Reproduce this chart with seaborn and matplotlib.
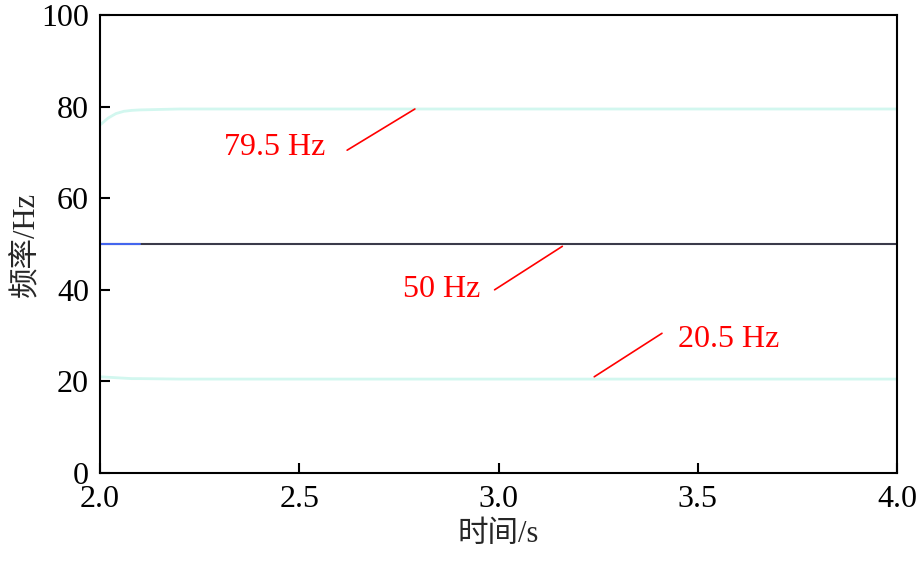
import matplotlib
matplotlib.use("Agg")
import matplotlib.pyplot as plt
import seaborn as sns
import pandas as pd

sns.set_style("white")
plt.rcParams['font.family'] = ['Liberation Serif', 'Noto Sans CJK SC']

t = [2.0, 2.02, 2.04, 2.06, 2.08, 2.1, 2.15, 2.2, 2.5, 3.0, 3.5, 4.0]
f_high = [76.0, 77.5, 78.5, 79.0, 79.2, 79.3, 79.4, 79.5, 79.5, 79.5, 79.5, 79.5]
f_mid = [50.0] * len(t)
f_low = [21.0, 20.9, 20.8, 20.7, 20.6, 20.6, 20.55, 20.5, 20.5, 20.5, 20.5, 20.5]

fig = plt.figure(figsize=(9.22, 5.61), dpi=100)
ax = fig.add_axes([0.1085, 0.157, 0.8645, 0.816])
df = pd.DataFrame({"t": t, "hi": f_high, "mid": f_mid, "lo": f_low})
sns.lineplot(data=df, x="t", y="hi", ax=ax, color="#d2f7ef", lw=2)
sns.lineplot(data=df, x="t", y="lo", ax=ax, color="#d2f7ef", lw=2)
sns.lineplot(data=df, x="t", y="mid", ax=ax, color="#3a3a4a", lw=1.5)
sns.lineplot(data=df[df.t <= 2.1], x="t", y="mid", ax=ax, color="#4466ee", lw=1.5)

ax.set_xlim(2.0, 4.0)
ax.set_ylim(0, 100)
ax.set_xticks([2.0, 2.5, 3.0, 3.5, 4.0])
ax.set_yticks([0, 20, 40, 60, 80, 100])
ax.tick_params(direction='in', length=7, width=1.5, labelsize=23, colors='black',
               left=True, bottom=True)
ax.tick_params(axis='x', pad=9)
ax.tick_params(axis='y', pad=8)
for s in ax.spines.values():
    s.set_color('black'); s.set_linewidth(1.5)
ax.set_xlabel("时间/s", fontsize=22, labelpad=4)
ax.set_ylabel("频率/Hz", fontsize=22, labelpad=0)

red = 'red'
ax.text(2.31, 69.5, "79.5 Hz", color=red, fontsize=23)
ax.plot([2.62, 2.79], [70.5, 79.5], color=red, lw=1.2)
ax.text(2.76, 38.5, "50 Hz", color=red, fontsize=23)
ax.plot([2.99, 3.16], [40, 49.5], color=red, lw=1.2)
ax.text(3.45, 27.5, "20.5 Hz", color=red, fontsize=23)
ax.plot([3.24, 3.41], [21, 30.5], color=red, lw=1.2)

fig.savefig("out.png", dpi=100)
